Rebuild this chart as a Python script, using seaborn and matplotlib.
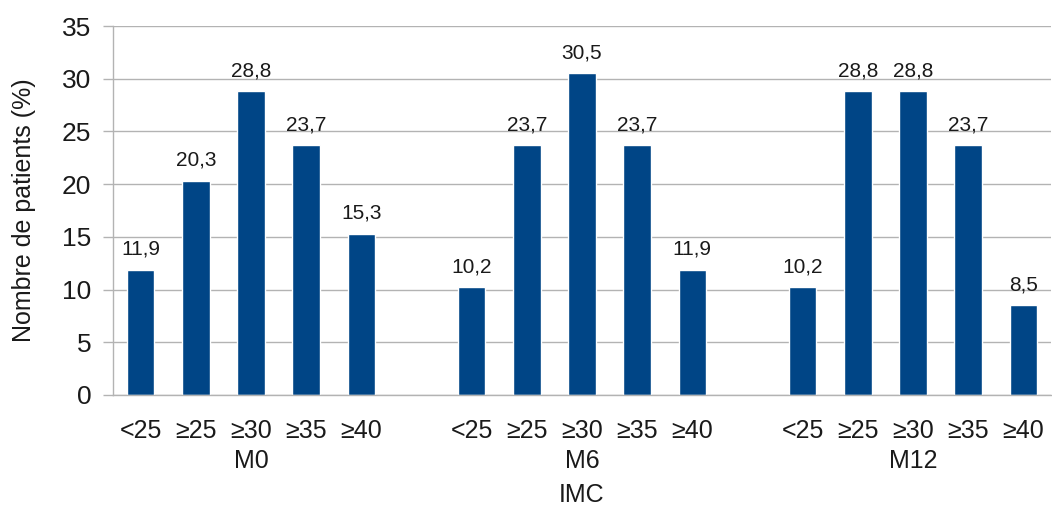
import numpy as np
import pandas as pd
import matplotlib.pyplot as plt
import seaborn as sns

# ----------------------
# Data
# ----------------------
groups = ["M0", "M6", "M12"]
classes = ["<25", "≥25", "≥30", "≥35", "≥40"]
m0 = [11.9, 20.3, 28.8, 23.7, 15.3]
m6 = [10.2, 23.7, 30.5, 23.7, 11.9]
m12 = [10.2, 28.8, 28.8, 23.7, 8.5]

rows = []
for gi, (g, vals) in enumerate(zip(groups, [m0, m6, m12])):
    for ci, (c, v) in enumerate(zip(classes, vals)):
        # one empty slot between groups
        rows.append({"group": g, "imc": c, "pos": gi * 6 + ci, "value": v})
df = pd.DataFrame(rows)

# ----------------------
# Style
# ----------------------
sns.set_style("white")
plt.rcParams["font.family"] = ["Liberation Sans", "DejaVu Sans"]
grid_col = "#b3b3b3"
txt_col = "#1a1a1a"

fig, ax = plt.subplots(figsize=(10.52, 5.09), dpi=100)
fig.subplots_adjust(left=113 / 1052, right=1051 / 1052,
                    bottom=1 - 395 / 509, top=1 - 26 / 509)

sns.barplot(data=df, x="pos", y="value", native_scale=True, width=0.5,
            color="#004586", saturation=1, errorbar=None, ax=ax)

# value labels
for cont in ax.containers:
    ax.bar_label(cont, labels=[f"{p.get_height():.1f}".replace(".", ",") for p in cont],
                 padding=8, fontsize=15, color=txt_col)

# ----------------------
# Axes
# ----------------------
ax.set_ylim(0, 35)
ax.set_yticks(np.arange(0, 36, 5))
ax.set_xlim(-0.5, 16.5)
ax.set_xticks(df["pos"], labels=df["imc"])
ax.set_xticks(np.arange(-0.5, 17, 1), minor=True)
ax.tick_params(axis="x", which="major", length=0, pad=17, labelsize=18, labelcolor=txt_col)
ax.tick_params(axis="x", which="minor", length=11, width=1, color=grid_col)
ax.tick_params(axis="y", length=7.5, width=1, color=grid_col, pad=8,
               labelsize=19, labelcolor=txt_col, left=True)

ax.grid(axis="y", color=grid_col, linewidth=1)
ax.set_axisbelow(True)
for s in ["top", "right"]:
    ax.spines[s].set_visible(False)
for s in ["left", "bottom"]:
    ax.spines[s].set_color(grid_col)
    ax.spines[s].set_linewidth(1)

ax.set_xlabel("")
ax.set_ylabel("Nombre de patients (%)", fontsize=18, color=txt_col)
ax.yaxis.set_label_coords(-0.082, 0.5)

# group labels and axis title
for gi, g in enumerate(groups):
    ax.annotate(g, xy=(gi * 6 + 2, 0), xycoords=("data", "axes fraction"),
                xytext=(0, -39), textcoords="offset points",
                ha="center", va="top", fontsize=18, color=txt_col)
ax.annotate("IMC", xy=(8, 0), xycoords=("data", "axes fraction"),
            xytext=(0, -63), textcoords="offset points",
            ha="center", va="top", fontsize=18, color=txt_col)

plt.savefig("out.png", dpi=100)
